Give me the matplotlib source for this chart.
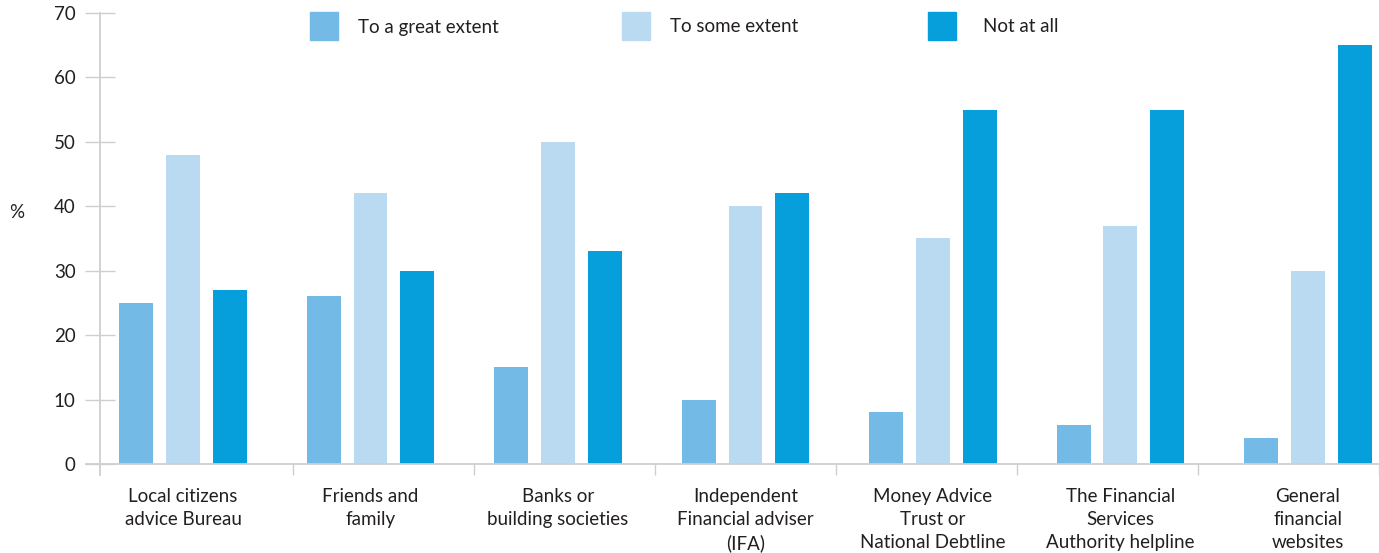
import matplotlib.pyplot as plt
import numpy as np

plt.rcParams['font.family'] = ['Lato', 'DejaVu Sans']

SOURCES = [
    'Local citizens\nadvice Bureau',
    'Friends and\nfamily',
    'Banks or\nbuilding societies',
    'Independent\nFinancial adviser\n(IFA)',
    'Money Advice\nTrust or\nNational Debtline',
    'The Financial\nServices\nAuthority helpline',
    'General\nfinancial\nwebsites',
]
GREAT_EXTENT = [25, 26, 15, 10, 8, 6, 4]
SOME_EXTENT = [48, 42, 50, 40, 35, 37, 30]
NOT_AT_ALL = [27, 30, 33, 42, 55, 55, 65]
SERIES_NAMES = ['To a great extent', 'To some extent', 'Not at all']
COLOURS = ['#74bae6', '#badaf2', '#069fdc']

TEXT = '#231f20'
GREY = '#cfcfcf'
FS = 13.5


def main():
    fig = plt.figure(figsize=(13.79, 5.53), dpi=100)
    ax = fig.add_axes([0.0725, 0.161, 0.9275, 0.8155])

    x = np.arange(len(SOURCES))
    width = 0.181
    step = 0.249
    for k, (vals, col) in enumerate(zip([GREAT_EXTENT, SOME_EXTENT, NOT_AT_ALL], COLOURS)):
        ax.bar(x + (k - 1) * step, vals, width, color=col, zorder=2)

    x_left = -0.443
    ax.set_xlim(x_left, 6.379)
    ax.set_ylim(0, 70)

    for s in ax.spines.values():
        s.set_visible(False)

    # vertical axis line, running a little below zero
    ax.plot([x_left, x_left], [-1.75, 70], color=GREY, lw=1.3, clip_on=False, zorder=1)
    # baseline
    ax.plot([-0.517, 6.379], [0, 0], color=GREY, lw=1.3, clip_on=False, zorder=3)

    # y ticks as short crossing marks
    ax.set_yticks(range(0, 71, 10))
    ax.tick_params(axis='y', direction='inout', length=22, width=1.0, color=GREY,
                   labelsize=FS, labelcolor=TEXT, pad=6.5)

    # category labels under each group
    ax.set_xticks(x)
    ax.set_xticklabels(SOURCES, fontsize=FS, color=TEXT, linespacing=1.45)
    ax.tick_params(axis='x', length=0, pad=17)

    # divider marks between categories
    bounds = 0.587 + 0.9653 * np.arange(7)
    ax.set_xticks(bounds, minor=True)
    ax.tick_params(axis='x', which='minor', direction='out', length=8, width=1.0, color=GREY)

    ax.text(-0.885, 39, '%', fontsize=FS, color=TEXT, va='center', ha='center')

    # legend drawn as squares with text beside them
    leg_x = [310, 622, 928]
    txt_x = [358, 670, 983]
    for name, col, sx, tx in zip(SERIES_NAMES, COLOURS, leg_x, txt_x):
        fig.patches.append(plt.Rectangle((sx / 1379, 1 - 40 / 553), 28 / 1379, 28 / 553,
                                         transform=fig.transFigure, color=col, zorder=5))
        fig.text(tx / 1379, 1 - 27 / 553, name, fontsize=FS, color=TEXT, va='center', ha='left')

    fig.savefig('out.png', dpi=100)


if __name__ == '__main__':
    main()
